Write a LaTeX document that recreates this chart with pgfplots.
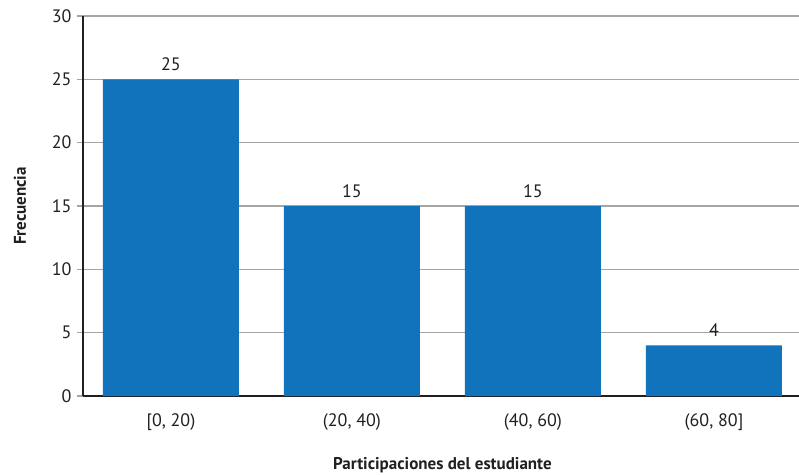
\documentclass[border=0pt]{standalone}
\usepackage{pgfplots}
\pgfplotsset{compat=1.18}
\usepackage{fontspec}
\setmainfont{PT Sans}
\definecolor{barblue}{RGB}{16,115,188}
\definecolor{txt}{RGB}{35,31,32}
\definecolor{gridgray}{RGB}{165,165,165}
\begin{document}
\begin{tikzpicture}
\begin{axis}[
  scale only axis,
  width=716pt, height=380pt,
  xmin=-0.486, xmax=3.47,
  ymin=0, ymax=30,
  ytick={0,5,...,30},
  xtick={0,1,2,3},
  xticklabels={{[0, 20)},{(20, 40)},{(40, 60)},{(60, 80]}},
  axis x line*=bottom, axis y line*=left,
  x axis line style={-, draw=txt, line width=1.6pt},
  y axis line style={-, draw=txt, line width=1.6pt},
  ymajorgrids,
  major grid style={draw=gridgray, line width=1.1pt},
  xtick style={draw=none},
  ytick style={draw=gridgray, line width=1.1pt},
  tick align=outside,
  major tick length=6pt,
  /pgf/number format/assume math mode=true,
  tick label style={font=\fontsize{18}{20}\selectfont, text=txt},
  xticklabel style={yshift=-8pt},
  yticklabel style={xshift=-2pt},
  xlabel={Participaciones del estudiante},
  ylabel={Frecuencia},
  label style={font=\fontsize{17}{19}\selectfont\bfseries, text=txt},
  xlabel style={at={(axis description cs:0.502,-0.182)}, anchor=center},
  ylabel style={at={(axis description cs:-0.088,0.5)}, anchor=center},
  ybar, bar width=136pt,
  nodes near coords,
  every node near coord/.append style={font=\fontsize{18}{20}\selectfont, text=txt, yshift=5pt},
  clip=false,
]
\addplot[fill=barblue, draw=none] coordinates {(0,25) (1,15) (2,15) (3,4)};
\end{axis}
\pgfresetboundingbox
\path[use as bounding box] (-83pt,-78pt) rectangle (716pt,396pt);
\end{tikzpicture}
\end{document}
